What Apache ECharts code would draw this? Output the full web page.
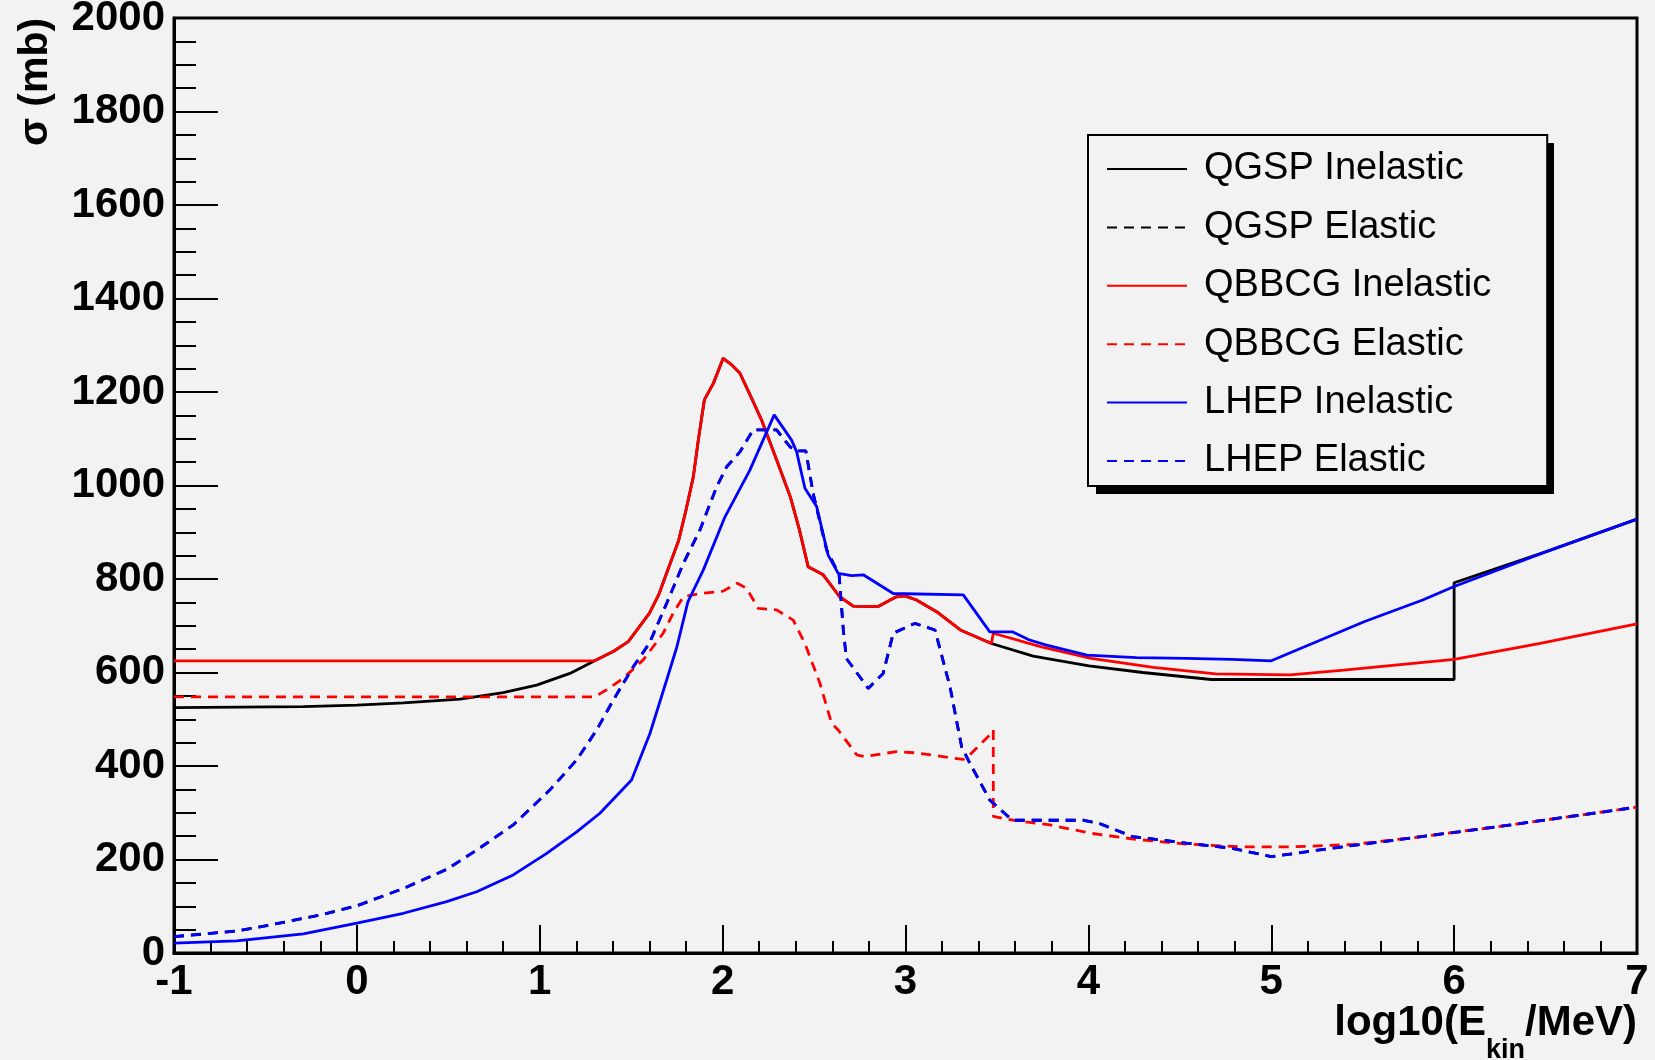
<!DOCTYPE html>
<html>
<head>
<meta charset="utf-8">
<title>cross sections</title>
<script src="https://cdn.jsdelivr.net/npm/echarts@6/dist/echarts.min.js"></script>
<style>
  html, body { margin: 0; padding: 0; background: #f2f2f2; }
  #xs-chart { width: 1655px; height: 1060px; }
</style>
</head>
<body>
<div id="xs-chart"></div>
<script>
// series names (legend order)
var seriesNames = ['QGSP Inelastic', 'QGSP Elastic', 'QBBCG Inelastic', 'QBBCG Elastic', 'LHEP Inelastic', 'LHEP Elastic'];

// QGSP inelastic, x = log10(Ekin/MeV), y = sigma (mb)
var qgspInelX = [-1, -0.293, 0.0, 0.254, 0.564, 0.80, 0.983, 1.165, 1.30, 1.402, 1.484, 1.53, 1.60, 1.65, 1.76, 1.80, 1.84, 1.867, 1.90, 1.95, 2.003, 2.05, 2.095, 2.15, 2.213, 2.295, 2.37, 2.42, 2.468, 2.55, 2.64, 2.714, 2.85, 2.95, 2.997, 3.06, 3.17, 3.30, 3.47, 3.698, 4.003, 4.298, 4.672, 6.0, 6.0, 6.5, 7.0];
var qgspInelY = [525, 527, 530, 535, 543, 557, 573, 598, 625, 645, 666, 690, 727, 766, 883, 948, 1019, 1097, 1183, 1219, 1272, 1258, 1240, 1194, 1140, 1055, 976, 905, 826, 809, 762, 742, 741, 762, 764, 755, 730, 691, 662, 635, 614, 600, 585, 585, 792, 858, 928];

// QBBCG inelastic
var qbbcgInelX = [-1, 1.30, 1.402, 1.484, 1.53, 1.60, 1.65, 1.76, 1.80, 1.84, 1.867, 1.90, 1.95, 2.003, 2.05, 2.095, 2.15, 2.213, 2.295, 2.37, 2.42, 2.468, 2.55, 2.64, 2.714, 2.85, 2.95, 2.997, 3.06, 3.17, 3.30, 3.47, 3.48, 3.743, 4.015, 4.355, 4.695, 5.103, 5.397, 6.0, 6.463, 7.0];
var qbbcgInelY = [625, 625, 645, 666, 690, 727, 766, 883, 948, 1019, 1097, 1183, 1219, 1272, 1258, 1240, 1194, 1140, 1055, 976, 905, 826, 809, 762, 742, 741, 762, 764, 755, 730, 691, 662, 684, 655, 630, 611, 597, 595, 605, 628, 662, 704];

// QBBCG elastic
var qbbcgElX = [-1, 1.30, 1.366, 1.457, 1.566, 1.675, 1.73, 1.785, 1.876, 2.003, 2.08, 2.131, 2.195, 2.295, 2.386, 2.45, 2.532, 2.596, 2.632, 2.733, 2.778, 2.951, 3.06, 3.316, 3.352, 3.47, 3.48, 3.48, 3.589, 3.789, 4.015, 4.264, 4.536, 4.831, 5.103, 5.443, 5.783, 6.236, 7.0];
var qbbcgElY = [548, 548, 563, 588, 627, 684, 727, 762, 769, 774, 791, 780, 737, 734, 712, 662, 577, 491, 477, 424, 420, 431, 428, 414, 424, 470, 477, 292, 284, 274, 256, 243, 233, 227, 227, 232, 247, 270, 312];

// LHEP inelastic
var lhepInelX = [-1, -0.657, -0.293, 0.0, 0.254, 0.491, 0.655, 0.855, 1.038, 1.202, 1.329, 1.502, 1.603, 1.694, 1.75, 1.81, 1.894, 2.013, 2.149, 2.282, 2.377, 2.405, 2.45, 2.514, 2.577, 2.632, 2.705, 2.769, 2.933, 3.316, 3.461, 3.584, 3.675, 3.766, 3.992, 4.264, 4.536, 4.786, 5.0, 5.511, 5.828, 6.0, 6.5, 7.0];
var lhepInelY = [21, 26, 41, 64, 85, 110, 131, 167, 213, 259, 299, 370, 470, 584, 655, 751, 819, 933, 1033, 1151, 1097, 1072, 994, 955, 851, 812, 807, 809, 769, 766, 687, 687, 670, 659, 637, 632, 630, 628, 625, 709, 755, 784, 858, 928];

// LHEP elastic (QGSP elastic lies exactly under it)
var lhepElX = [-1, -0.657, -0.475, -0.202, 0.0, 0.254, 0.491, 0.655, 0.855, 1.056, 1.202, 1.311, 1.402, 1.511, 1.60, 1.694, 1.785, 1.876, 1.967, 2.022, 2.095, 2.167, 2.295, 2.368, 2.405, 2.455, 2.495, 2.569, 2.637, 2.66, 2.677, 2.796, 2.878, 2.933, 3.051, 3.161, 3.243, 3.307, 3.352, 3.461, 3.584, 3.97, 4.06, 4.242, 4.536, 4.786, 5.0, 5.33, 5.783, 6.236, 7.0];
var lhepElY = [35, 47, 60, 81, 101, 138, 179, 220, 274, 349, 413, 477, 541, 612, 663, 748, 833, 905, 997, 1040, 1072, 1119, 1119, 1083, 1074, 1074, 983, 862, 809, 691, 630, 566, 598, 684, 705, 691, 570, 441, 406, 327, 284, 284, 277, 249, 235, 224, 206, 224, 247, 270, 312];

var qgspElX = lhepElX;
var qgspElY = lhepElY;

var FONT = "'Liberation Sans', Arial, Helvetica, sans-serif";

function pairs(xs, ys) {
  var out = [];
  for (var i = 0; i < xs.length; i++) {
    out.push([xs[i], ys[i]]);
  }
  return out;
}

function lineSeries(name, xs, ys, color, dashed) {
  return {
    name: name,
    type: 'line',
    symbol: 'none',
    showSymbol: false,
    smooth: false,
    clip: true,
    z: 3,
    lineStyle: {
      color: color,
      width: 2.8,
      type: dashed ? [10, 7] : 'solid'
    },
    itemStyle: { color: color },
    data: pairs(xs, ys)
  };
}

var xsChart = echarts.init(document.getElementById('xs-chart'));
var option = {
  animation: false,
  backgroundColor: '#f2f2f2',
  grid: {
    left: 174,
    right: 18,
    top: 18,
    bottom: 107,
    outerBoundsMode: 'none',
    containLabel: false,
    show: true,
    borderColor: '#000',
    borderWidth: 3,
    backgroundColor: 'transparent'
  },
  legend: {
    orient: 'vertical',
    left: 1088,
    top: 135,
    data: seriesNames,
    padding: [14, 56, 5, 18],
    itemWidth: 80,
    itemHeight: 14,
    itemGap: 18.4,
    backgroundColor: '#f2f2f2',
    borderColor: '#000',
    borderWidth: 2,
    itemStyle: { opacity: 0 },
    textStyle: {
      color: '#000',
      fontFamily: FONT,
      fontSize: 38,
      lineHeight: 40,
      padding: [0, 0, 0, 12]
    }
  },
  graphic: [
    {
      // legend drop shadow
      type: 'rect',
      z: 1,
      shape: { x: 1096, y: 143, width: 458, height: 351 },
      style: { fill: '#000' }
    },
    {
      type: 'text',
      x: 36,
      y: 82,
      rotation: Math.PI / 2,
      style: {
        text: 'σ (mb)',
        font: 'bold 41px ' + FONT,
        fill: '#000',
        textAlign: 'center',
        textVerticalAlign: 'middle'
      }
    }
  ],
  xAxis: {
    type: 'value',
    min: -1,
    max: 7,
    interval: 1,
    name: '{m|log10(E}{s|kin}{m|/MeV)}',
    nameLocation: 'end',
    nameGap: 0,
    nameMoveOverlap: false,
    nameTextStyle: {
      align: 'right',
      verticalAlign: 'top',
      padding: [49, 0, 0, 0],
      rich: {
        m: { fontFamily: FONT, fontWeight: 'bold', fontSize: 42, lineHeight: 48, color: '#000', verticalAlign: 'top' },
        s: { fontFamily: FONT, fontWeight: 'bold', fontSize: 27, lineHeight: 30, color: '#000', padding: [49, 0, 0, 0] }
      }
    },
    axisLine: { show: true, onZero: false, lineStyle: { color: '#000', width: 3 } },
    axisTick: { show: true, inside: true, length: 28, lineStyle: { color: '#000', width: 2 } },
    minorTick: { show: true, splitNumber: 5, length: 12, lineStyle: { color: '#000', width: 2 } },
    splitLine: { show: false },
    minorSplitLine: { show: false },
    axisLabel: {
      color: '#000',
      fontFamily: FONT,
      fontWeight: 'bold',
      fontSize: 42,
      margin: 8,
      showMinLabel: true,
      showMaxLabel: true,
      formatter: function (v) { return String(v); }
    }
  },
  yAxis: {
    type: 'value',
    min: 0,
    max: 2000,
    interval: 200,
    axisLine: { show: true, onZero: false, lineStyle: { color: '#000', width: 3 } },
    axisTick: { show: true, inside: true, length: 44, lineStyle: { color: '#000', width: 2 } },
    minorTick: { show: true, splitNumber: 4, length: 22, lineStyle: { color: '#000', width: 2 } },
    splitLine: { show: false },
    minorSplitLine: { show: false },
    axisLabel: {
      color: '#000',
      fontFamily: FONT,
      fontWeight: 'bold',
      fontSize: 42,
      margin: 9,
      padding: [10, 0, 0, 0],
      showMinLabel: true,
      showMaxLabel: true,
      formatter: function (v) { return String(v); }
    }
  },
  series: [
    lineSeries(seriesNames[0], qgspInelX, qgspInelY, '#000000', false),
    lineSeries(seriesNames[1], qgspElX, qgspElY, '#000000', true),
    lineSeries(seriesNames[2], qbbcgInelX, qbbcgInelY, '#ff0000', false),
    lineSeries(seriesNames[3], qbbcgElX, qbbcgElY, '#ff0000', true),
    lineSeries(seriesNames[4], lhepInelX, lhepInelY, '#0000ff', false),
    lineSeries(seriesNames[5], lhepElX, lhepElY, '#0000ff', true)
  ]
};
xsChart.setOption(option);
</script>
</body>
</html>
